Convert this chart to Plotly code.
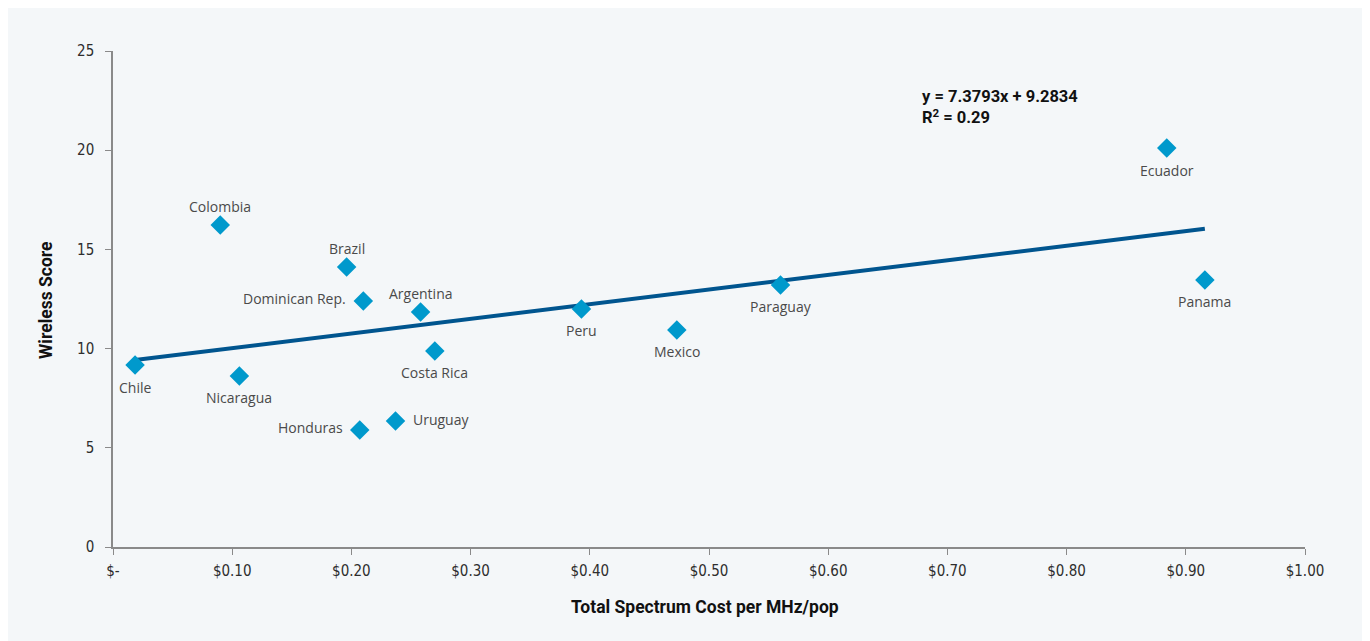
import plotly.graph_objects as go

countries = ["Chile", "Colombia", "Brazil", "Dominican Rep.", "Argentina", "Costa Rica",
             "Nicaragua", "Honduras", "Uruguay", "Peru", "Mexico", "Paraguay", "Ecuador", "Panama"]
cost = [0.0185, 0.090, 0.196, 0.210, 0.258, 0.270, 0.106, 0.207, 0.237, 0.393, 0.473, 0.560, 0.884, 0.916]
score = [9.17, 16.23, 14.11, 12.40, 11.84, 9.88, 8.62, 5.90, 6.35, 12.00, 10.94, 13.21, 20.11, 13.46]
label_side = ["below", "above", "above", "left", "above", "below",
              "below", "left", "right", "below", "below", "below", "below", "below"]

slope = 7.3793
intercept = 9.2834
r_squared = 0.29

x_tickvals = [0, 0.1, 0.2, 0.3, 0.4, 0.5, 0.6, 0.7, 0.8, 0.9, 1.0]
x_ticktext = ["$-", "$0.10", "$0.20", "$0.30", "$0.40", "$0.50", "$0.60", "$0.70", "$0.80", "$0.90", "$1.00"]
y_tickvals = [0, 5, 10, 15, 20, 25]

W, H = 1370, 641
OFF = 8  # page body margin
ML, MT = 113 - OFF, 51 - OFF
PW, PH = 1192, 496
MR, MB = W - ML - PW, H - MT - PH

side_style = {
    "below": dict(xanchor="center", yanchor="middle", xshift=0, yshift=-22),
    "above": dict(xanchor="center", yanchor="middle", xshift=0, yshift=19),
    "left": dict(xanchor="right", yanchor="middle", xshift=-15, yshift=2),
    "right": dict(xanchor="left", yanchor="middle", xshift=15, yshift=2),
}

fig = go.Figure()

trend_x = [min(cost), max(cost)]
trend_y = [slope * v + intercept for v in trend_x]
fig.add_trace(go.Scatter(x=trend_x, y=trend_y, mode="lines",
                         line=dict(color="#00558f", width=4), hoverinfo="skip", showlegend=False))

fig.add_trace(go.Scatter(
    x=cost, y=score, mode="markers",
    marker=dict(symbol="diamond", size=15, color="#0099cc"),
    showlegend=False, cliponaxis=False))

annotations = []
for name, cx, cy, side in zip(countries, cost, score, label_side):
    annotations.append(dict(text=name, x=cx, y=cy, xref="x", yref="y", showarrow=False,
                            font=dict(family="Open Sans", size=14, color="#4a4a4a"),
                            **side_style[side]))

annotations += [
    dict(text=f"<b>y = {slope}x + {intercept}<br>R<sup>2</sup> = {r_squared}</b>",
         x=0.677, y=23.3, xref="x", yref="y", xanchor="left", yanchor="top", align="left",
         showarrow=False, font=dict(family="Roboto", size=16.5, color="#111111")),
    dict(text="<b>Total Spectrum Cost per MHz/pop</b>", xref="paper", yref="paper",
         x=(705 - OFF - ML) / PW, y=(MT + PH - (607 - OFF)) / PH, xanchor="center", yanchor="middle",
         showarrow=False, font=dict(family="Roboto", size=17.5, color="#111111")),
    dict(text="<b>Wireless Score</b>", xref="paper", yref="paper", textangle=-90,
         x=(46 - OFF - ML) / PW, y=(MT + PH - (300 - OFF)) / PH, xanchor="center", yanchor="middle",
         showarrow=False, font=dict(family="Roboto", size=17.5, color="#111111")),
]

tickfont = dict(family="DejaVu Sans Condensed, Roboto", size=15, color="#2e2e2e")

fig.update_layout(
    width=W, height=H,
    margin=dict(l=ML, r=MR, t=MT, b=MB),
    paper_bgcolor="#f4f7f9", plot_bgcolor="#f4f7f9",
    xaxis=dict(range=[0, 1], tickvals=x_tickvals, ticktext=x_ticktext, showgrid=False, zeroline=False,
               showline=True, linecolor="#8a8a8a", linewidth=1.5, ticks="outside", ticklen=6,
               tickcolor="#8a8a8a", tickfont=tickfont, ticklabelstandoff=3),
    yaxis=dict(range=[0, 25], tickvals=y_tickvals, showgrid=False, zeroline=False,
               showline=True, linecolor="#8a8a8a", linewidth=1.5, ticks="outside", ticklen=6,
               tickcolor="#8a8a8a", tickfont=tickfont, ticklabelstandoff=8),
    annotations=annotations,
)

fig.write_html("out.html")
